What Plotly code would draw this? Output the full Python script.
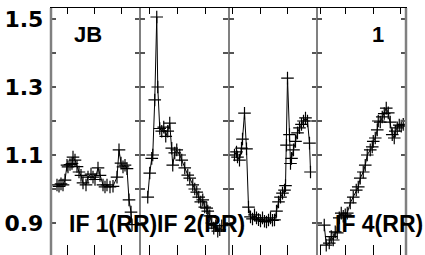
import plotly.graph_objects as go
from plotly.subplots import make_subplots

# ---- data (x = channel position within each IF panel, y = amplitude) ----
if1_x = [6, 8, 10, 12, 14, 16, 17, 19, 21, 22, 24, 26, 28, 30, 32, 35, 37, 40, 42, 44, 47, 49, 52, 54, 56, 59, 62, 66, 68, 70, 72, 74, 76, 78, 80, 81]
if1_y = [1.012, 1.008, 1.015, 1.012, 1.026, 1.070, 1.065, 1.072, 1.075, 1.094, 1.085, 1.066, 1.050, 1.040, 1.018, 1.012, 1.035, 1.044, 1.035, 1.028, 1.062, 1.040, 1.012, 1.006, 1.012, 1.006, 1.008, 1.035, 1.115, 1.076, 1.065, 1.070, 1.060, 0.968, 0.932, 0.895]

if2_x = [8, 10, 12, 13, 15, 17, 18, 20, 22, 24, 26, 28, 30, 32, 33, 35, 37, 40, 42, 45, 48, 50, 53, 55, 57, 59, 61, 63, 65, 67, 68, 70, 72, 74, 76, 78, 80, 82]
if2_y = [0.976, 1.047, 1.090, 1.100, 1.262, 1.506, 1.300, 1.178, 1.170, 1.182, 1.155, 1.170, 1.194, 1.120, 1.070, 1.106, 1.115, 1.100, 1.085, 1.062, 1.041, 1.032, 1.012, 1.000, 0.991, 0.976, 0.962, 0.968, 0.947, 0.944, 0.935, 0.921, 0.900, 0.885, 0.892, 0.876, 0.880, 0.892]

if3_x = [6, 8, 9, 11, 13, 14, 16, 18, 20, 22, 24, 26, 28, 30, 32, 34, 36, 38, 40, 42, 44, 46, 48, 50, 52, 54, 56, 57, 58, 59, 61, 62, 63, 65, 67, 69, 71, 73, 75, 77, 79, 81, 82]
if3_y = [1.100, 1.109, 1.094, 1.085, 1.120, 1.147, 1.223, 1.118, 0.947, 0.918, 0.912, 0.924, 0.915, 0.910, 0.906, 0.915, 0.905, 0.903, 0.909, 0.915, 0.908, 0.909, 0.935, 0.962, 0.976, 0.988, 0.997, 1.010, 1.129, 1.326, 1.160, 1.075, 1.090, 1.115, 1.140, 1.165, 1.180, 1.190, 1.200, 1.209, 1.200, 1.135, 1.050]

if4_x = [7, 9, 12, 14, 16, 18, 20, 22, 24, 26, 28, 30, 33, 36, 39, 41, 43, 46, 48, 50, 53, 55, 56, 58, 60, 61, 63, 65, 67, 69, 71, 73, 75, 77, 78, 80, 82, 84, 86]
if4_y = [0.894, 0.835, 0.841, 0.860, 0.850, 0.874, 0.871, 0.915, 0.929, 0.920, 0.924, 0.929, 0.959, 0.976, 0.997, 1.006, 1.032, 1.050, 1.070, 1.100, 1.115, 1.124, 1.140, 1.150, 1.174, 1.200, 1.197, 1.212, 1.222, 1.238, 1.224, 1.197, 1.160, 1.150, 1.170, 1.180, 1.188, 1.185, 1.190]

panels = [(if1_x, if1_y), (if2_x, if2_y), (if3_x, if3_y), (if4_x, if4_y)]
panel_labels = ["IF 1(RR)", "IF 2(RR)", None, "IF 4(RR)"]
x_ticks = [[16, 43, 70], [10, 38, 66], [4, 32, 59], [3, 28, 56, 83]]
y_tickvals = [0.9, 1.0, 1.1, 1.2, 1.3, 1.4, 1.5]
y_ticktext = ["0.9", "", "1.1", "", "1.3", "", "1.5"]
x_range = [0, 88.75]
y_range = [0.8059, 1.5324]

fig = make_subplots(rows=1, cols=4, shared_yaxes=False, horizontal_spacing=0)

for i, (xs, ys) in enumerate(panels):
    fig.add_trace(go.Scatter(
        x=xs, y=ys, mode="lines+markers",
        line=dict(color="black", width=1),
        marker=dict(symbol="cross-thin-open", size=9, color="black",
                    line=dict(width=1.2, color="black")),
        showlegend=False), row=1, col=i + 1)

for i in range(4):
    xa = "xaxis" if i == 0 else f"xaxis{i+1}"
    ya = "yaxis" if i == 0 else f"yaxis{i+1}"
    fig.layout[xa].update(range=x_range, tickvals=x_ticks[i], showticklabels=False,
                          ticks="inside", ticklen=10, tickwidth=1, tickcolor="black",
                          showline=False, showgrid=False, zeroline=False)
    fig.layout[ya].update(range=y_range, tickvals=y_tickvals, ticktext=y_ticktext,
                          showticklabels=(i == 0), ticks="inside", ticklen=5,
                          tickwidth=1.5, tickcolor="#555",
                          showline=True, linecolor="#808080", linewidth=1.3,
                          mirror="ticks", showgrid=False, zeroline=False,
                          ticklabelstandoff=2,
                          tickfont=dict(family="DejaVu Sans", size=22, color="black",
                                        weight="bold"))

# top axes (line + ticks), overlaying each panel's x axis
for i in range(4):
    base = "x" if i == 0 else f"x{i+1}"
    ya = "y" if i == 0 else f"y{i+1}"
    fig.layout[f"xaxis{i+5}"] = dict(overlaying=base, matches=base, side="top", anchor=ya,
                                      range=x_range, tickvals=x_ticks[i], showticklabels=False,
                                      ticks="inside", ticklen=6, tickwidth=1, tickcolor="black",
                                      showline=True, linecolor="black", linewidth=1,
                                      showgrid=False, zeroline=False)
    fig.add_trace(go.Scatter(x=[None], y=[None], xaxis=f"x{i+5}", yaxis=ya,
                             showlegend=False, hoverinfo="skip"))

# thicken the outer borders so they match the shared ones
for px in (0, 1):
    fig.add_shape(type="line", xref="paper", yref="paper", x0=px, x1=px, y0=0, y1=1,
                  line=dict(color="#808080", width=2.5), layer="above")

lab_font = dict(family="Liberation Sans", size=23, color="black", weight="bold")
for i, lab in enumerate(panel_labels):
    if lab is None:
        continue
    xr = "x" if i == 0 else f"x{i+1}"
    yr = "y" if i == 0 else f"y{i+1}"
    fig.add_annotation(x=16 if i != 1 else 15, y=0.897, xref=xr, yref=yr, text=lab,
                       showarrow=False, xanchor="left", yanchor="middle", font=lab_font)

corner_font = dict(family="Liberation Sans", size=22, color="black", weight="bold")
fig.add_annotation(x=37, y=1.455, xref="x", yref="y", text="JB", showarrow=False,
                   xanchor="center", yanchor="middle", font=corner_font)
fig.add_annotation(x=61, y=1.455, xref="x4", yref="y4", text="1", showarrow=False,
                   xanchor="center", yanchor="middle", font=corner_font)

fig.update_layout(width=425, height=255, autosize=False,
                  margin=dict(l=51, r=19, t=8, b=0, pad=0),
                  paper_bgcolor="white", plot_bgcolor="white")

fig.write_html("out.html", config={"displayModeBar": False},
               post_script="document.body.style.margin='0';")
